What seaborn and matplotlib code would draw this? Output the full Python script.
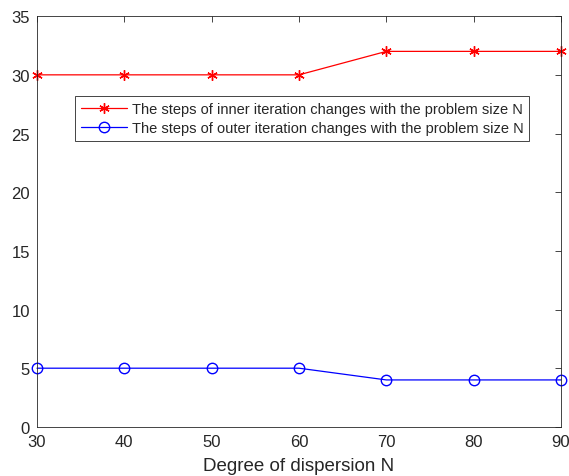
import numpy as np
import pandas as pd
import seaborn as sns
import matplotlib
matplotlib.use('Agg')
import matplotlib.pyplot as plt

# 数据
n_values = [30, 40, 50, 60, 70, 80, 90]
inner_steps = [30, 30, 30, 30, 32, 32, 32]
outer_steps = [5, 5, 5, 5, 4, 4, 4]
inner_label = 'The steps of inner iteration changes with the problem size N'
outer_label = 'The steps of outer iteration changes with the problem size N'

df = pd.DataFrame({
    'N': n_values + n_values,
    'steps': inner_steps + outer_steps,
    'series': [inner_label] * len(n_values) + [outer_label] * len(n_values),
})

sns.set_style('white')
plt.rcParams['font.family'] = ['Liberation Sans', 'DejaVu Sans']

fig = plt.figure(figsize=(5.69, 4.77), dpi=100)
ax = fig.add_axes([0.065, 0.103, 0.921, 0.861])

colors = {inner_label: '#ff0000', outer_label: '#0000ff'}
sns.lineplot(data=df, x='N', y='steps', hue='series', style='series',
             palette=colors, markers={inner_label: 'X', outer_label: 'o'},
             dashes=False, linewidth=0.9, ax=ax)


def matlab_marker(line, size):
    # 按 MATLAB 风格修改标记
    c = line.get_color()
    if line.get_marker() == 'X':
        line.set_marker((6, 2, 0))
    line.set_markersize(size)
    line.set_markerfacecolor('none')
    line.set_markeredgecolor(c)
    line.set_markeredgewidth(1.0)


for line in ax.get_lines():
    matlab_marker(line, 7.5)
    line.set_clip_on(False)

ax.set_xlim(30, 90)
ax.set_ylim(0, 35)
ax.set_xticks(n_values)
ax.set_yticks(range(0, 36, 5))
ax.set_xlabel('Degree of dispersion N', fontsize=13.5, color='#262626', labelpad=6)
ax.set_ylabel('')
ax.tick_params(direction='in', top=True, right=True, length=4, width=0.6,
               labelsize=12, colors='#262626', pad=5)
for sp in ax.spines.values():
    sp.set_color('#262626')
    sp.set_linewidth(0.6)

handles, labels = ax.get_legend_handles_labels()
for h in handles:
    matlab_marker(h, 7.5)
leg = ax.legend(handles, labels, loc='upper left', bbox_to_anchor=(0.072, 0.805),
                fontsize=10.5, frameon=True, fancybox=False, edgecolor='#262626',
                framealpha=1, borderpad=0.4, labelspacing=0.35, handlelength=3.2,
                handletextpad=0.3, borderaxespad=0)
leg.get_frame().set_linewidth(0.6)

fig.savefig('out.png', dpi=100)
